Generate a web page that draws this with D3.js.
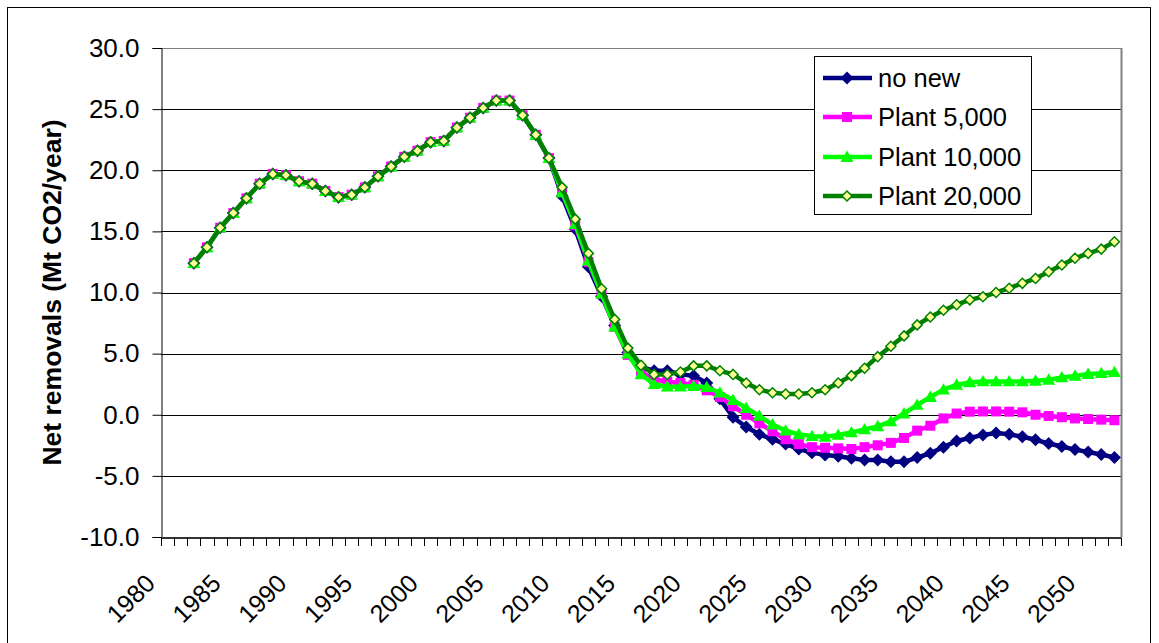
<!DOCTYPE html>
<html>
<head>
<meta charset="utf-8">
<script src="https://cdn.jsdelivr.net/npm/d3@7"></script>
<style>
  body { margin: 0; background: #fff; }
  svg text { font-family: "Liberation Sans", Arial, sans-serif; fill: #000; }
</style>
</head>
<body>
<div id="chart"></div>
<script>
// Category axis runs 1980..2052, data starts in 1982
const categories = d3.range(1980, 2053);
const years = d3.range(1982, 2053);
const tickYears = d3.range(1980, 2051, 5);
const yTicks = [-10, -5, 0, 5, 10, 15, 20, 25, 30];

// shared history 1982-2009
const history = [12.4, 13.7, 15.3, 16.5, 17.7, 18.9, 19.7, 19.6, 19.1, 18.9,
  18.3, 17.8, 18.0, 18.6, 19.5, 20.3, 21.1, 21.6, 22.3, 22.4,
  23.5, 24.3, 25.1, 25.7, 25.7, 24.5, 22.9, 21.0];

// 2010-2052 projections
const noNew = [17.9, 15.2, 12.1, 9.7, 7.3, 5.1, 3.9, 3.6, 3.6, 3.3,
  3.2, 2.6, 1.3, -0.2, -1.0, -1.6, -2.0, -2.4, -2.8, -3.1,
  -3.3, -3.4, -3.55, -3.7, -3.7, -3.85, -3.85, -3.5, -3.15, -2.65,
  -2.15, -1.9, -1.65, -1.5, -1.6, -1.8, -2.05, -2.35, -2.6, -2.85,
  -3.05, -3.25, -3.5];
const plant5 = [18.2, 15.5, 12.5, 9.9, 7.2, 4.9, 3.5, 2.9, 2.7, 2.6,
  2.45, 2.0, 1.45, 0.7, 0.0, -0.7, -1.35, -2.0, -2.4, -2.65,
  -2.7, -2.75, -2.8, -2.65, -2.5, -2.3, -1.9, -1.3, -0.9, -0.3,
  0.1, 0.25, 0.27, 0.27, 0.25, 0.2, 0.0, -0.1, -0.2, -0.3,
  -0.35, -0.4, -0.45];
const plant10 = [18.2, 15.6, 12.6, 9.9, 7.2, 5.0, 3.3, 2.5, 2.3, 2.3,
  2.35, 2.25, 1.8, 1.2, 0.55, -0.1, -0.8, -1.3, -1.6, -1.75,
  -1.8, -1.65, -1.45, -1.2, -0.95, -0.55, 0.1, 0.8, 1.45, 2.05,
  2.45, 2.65, 2.72, 2.72, 2.72, 2.72, 2.78, 2.86, 3.05, 3.18,
  3.33, 3.4, 3.48];
const plant20 = [18.6, 16.0, 13.2, 10.3, 7.8, 5.45, 4.05, 3.3, 3.3, 3.5,
  4.0, 4.0, 3.6, 3.3, 2.6, 2.05, 1.8, 1.7, 1.7, 1.8,
  2.05, 2.6, 3.2, 3.8, 4.75, 5.6, 6.45, 7.35, 8.0, 8.55,
  9.0, 9.4, 9.65, 10.0, 10.35, 10.75, 11.15, 11.7, 12.25, 12.8,
  13.2, 13.55, 14.15];

const seriesNames = ["no new", "Plant 5,000", "Plant 10,000", "Plant 20,000"];
const seriesValues = [noNew, plant5, plant10, plant20];

const W = 1159, H = 643;
const margin = { top: 48, right: 38, bottom: 106, left: 161 };

const svg = d3.select("#chart").append("svg")
  .attr("width", W).attr("height", H);

// outer chart frame
svg.append("rect")
  .attr("x", 7.5).attr("y", 7.5).attr("width", 1143).attr("height", 700)
  .attr("fill", "none").attr("stroke", "#000");

const x = d3.scaleBand()
  .domain(categories)
  .range([margin.left, W - margin.right]);
const xIdx = d3.scaleLinear()
  .domain([0, categories.length])
  .range([margin.left, W - margin.right]);
const y = d3.scaleLinear()
  .domain([-10, 30])
  .range([H - margin.bottom, margin.top]);

const cx = d => x(d) + x.bandwidth() / 2;

// gridlines
svg.append("g")
  .selectAll("line")
  .data(yTicks)
  .join("line")
  .attr("x1", margin.left).attr("x2", W - margin.right)
  .attr("y1", d => Math.round(y(d)) + 0.5).attr("y2", d => Math.round(y(d)) + 0.5)
  .attr("stroke", d => d === 30 ? "#808080" : "#000");

// plot border (right side)
svg.append("line")
  .attr("x1", W - margin.right + 0.5).attr("x2", W - margin.right + 0.5)
  .attr("y1", margin.top).attr("y2", H - margin.bottom)
  .attr("stroke", "#808080").attr("stroke-width", 2);

// y axis
const yAxis = svg.append("g")
  .attr("transform", `translate(${margin.left + 0.5},0)`)
  .call(d3.axisLeft(y).tickValues(yTicks).tickFormat(d => d.toFixed(1)).tickSize(9).tickPadding(13));
yAxis.selectAll("text").attr("font-size", 26).style("font-family", "'Liberation Sans', Arial, sans-serif");
yAxis.selectAll("line, path").attr("stroke", "#000");

// x axis: ticks between categories
const xTicksG = svg.append("g")
  .attr("transform", `translate(0,${Math.round(y(-10)) + 0.5})`)
  .call(d3.axisBottom(xIdx).tickValues(d3.range(0, categories.length + 1)).tickFormat("").tickSize(8).tickSizeOuter(0));
xTicksG.selectAll("line").attr("stroke", "#000").attr("shape-rendering", "crispEdges");
xTicksG.select("path").attr("stroke", "#333").attr("stroke-width", 2);

// x labels every 5 years
const xLab = svg.append("g")
  .attr("transform", `translate(0,${y(-10)})`)
  .call(d3.axisBottom(x).tickValues(tickYears).tickSize(0));
xLab.select("path").remove();
xLab.selectAll("text")
  .attr("x", 0).attr("y", 0).attr("dy", 0)
  .attr("text-anchor", "end")
  .attr("font-size", 25)
  .style("font-family", "'Liberation Sans', Arial, sans-serif")
  .attr("transform", "translate(-11,48) rotate(-45)");

// y title
svg.append("text")
  .attr("transform", `translate(61,${(margin.top + H - margin.bottom) / 2}) rotate(-90)`)
  .attr("text-anchor", "middle")
  .attr("font-size", 26.5)
  .attr("font-weight", "bold")
  .text("Net removals (Mt CO2/year)");

// series
const styles = [
  { color: "#000080", marker: "diamond", size: 6.5, fill: "#000080", stroke: "none" },
  { color: "#ff00ff", marker: "square", size: 5, fill: "#ff00ff", stroke: "none" },
  { color: "#00ff00", marker: "triangle", size: 6.5, fill: "#00ff00", stroke: "none" },
  { color: "#008000", marker: "diamond", size: 5, fill: "#ffff99", stroke: "#008000" }
];

function markerPath(type, s) {
  if (type === "diamond") return `M0,${-s}L${s},0L0,${s}L${-s},0Z`;
  if (type === "square") return `M${-s},${-s}H${s}V${s}H${-s}Z`;
  return `M0,${-s}L${s},${s * 0.75}L${-s},${s * 0.75}Z`;
}

const line = d3.line()
  .x(d => cx(d.year))
  .y(d => y(d.value));

seriesValues.forEach((vals, i) => {
  const st = styles[i];
  const data = years.map((yr, j) => ({
    year: yr,
    value: j < history.length ? history[j] : vals[j - history.length]
  }));
  const g = svg.append("g");
  g.append("path")
    .datum(data)
    .attr("fill", "none")
    .attr("stroke", st.color)
    .attr("stroke-width", 4.5)
    .attr("stroke-linejoin", "round")
    .attr("d", line);
  g.selectAll("path.m")
    .data(data)
    .join("path")
    .attr("class", "m")
    .attr("transform", d => `translate(${cx(d.year)},${y(d.value)})`)
    .attr("d", markerPath(st.marker, st.size))
    .attr("fill", st.fill)
    .attr("stroke", st.stroke)
    .attr("stroke-width", 1.5);
});

// legend
const lg = svg.append("g");
lg.append("rect")
  .attr("x", 814.5).attr("y", 56.5).attr("width", 217).attr("height", 158)
  .attr("fill", "#fff").attr("stroke", "#000");
const rowY = [78, 117, 157, 196];
seriesNames.forEach((name, i) => {
  const st = styles[i];
  const r = lg.append("g").attr("transform", `translate(0,${rowY[i]})`);
  r.append("line")
    .attr("x1", 823).attr("x2", 872)
    .attr("stroke", st.color).attr("stroke-width", 4.5);
  r.append("path")
    .attr("transform", "translate(847,0)")
    .attr("d", markerPath(st.marker, st.size))
    .attr("fill", st.fill).attr("stroke", st.stroke).attr("stroke-width", 1.5);
  r.append("text")
    .attr("x", 878).attr("dy", "0.36em")
    .attr("font-size", 25.5)
    .text(name);
});
</script>
</body>
</html>
